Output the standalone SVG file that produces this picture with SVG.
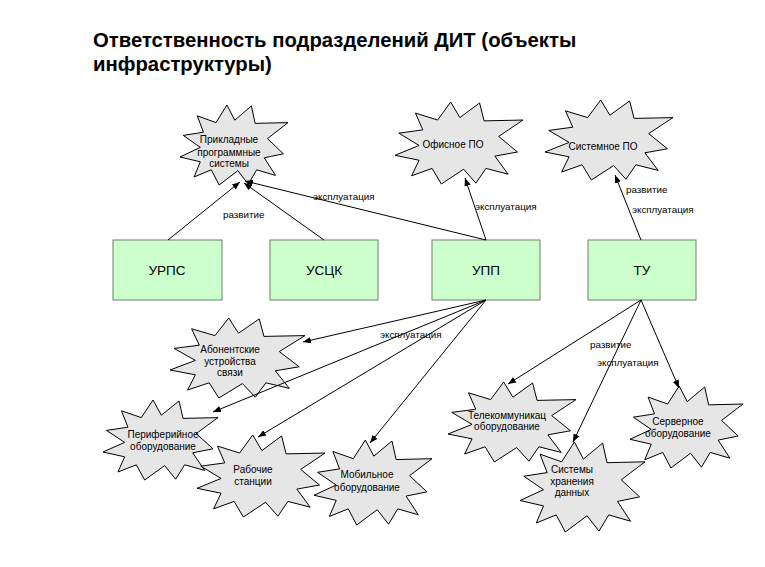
<svg xmlns="http://www.w3.org/2000/svg" xmlns:xlink="http://www.w3.org/1999/xlink" width="765" height="567" viewBox="0 0 765 567">
<style>
.title{font-family:"Liberation Sans",Arial,sans-serif;font-size:20.3px;font-weight:bold;fill:#000}
.box{fill:#ccffcc;stroke:#6f806f;stroke-width:1}
.bl{font-family:"Liberation Sans",Arial,sans-serif;font-size:13.5px;fill:#000;text-anchor:middle}
.st{font-family:"Liberation Sans",Arial,sans-serif;font-size:10px;fill:#000;text-anchor:middle}
.lb{font-family:"Liberation Sans",Arial,sans-serif;font-size:9.8px;fill:#000}
.con line{stroke:#000;stroke-width:1;marker-end:url(#ah)}
</style>
<defs>
<marker id="ah" viewBox="0 0 10 10" refX="10" refY="5" markerWidth="8" markerHeight="8" markerUnits="userSpaceOnUse" orient="auto">
<path d="M0,1 L10,5 L0,9 z" fill="#000"/>
</marker>
<path id="burst" d="M43.5,0 L50.7,19 L66.1,1.2 L69.6,23 L100,22 L81,42 L95.7,61 L78,66 L88.4,88 L71,81 L63.2,99 L53.6,82 L36.2,100 L29,81 L13,90 L18.8,71 L0,65 L18.8,53 L3,38 L21.7,34 L16,13.5 L33.3,22 Z" fill="#e6e6e6" stroke="#000" stroke-width="1" vector-effect="non-scaling-stroke"/>
</defs>
<rect width="765" height="567" fill="#fff"/>
<text class="title" x="93" y="47">Ответственность подразделений ДИТ (объекты</text>
<text class="title" x="93" y="71">инфраструктуры)</text>

<g id="n-urps"><rect class="box" x="113" y="240" width="109" height="60"/><text class="bl" x="167" y="275">УРПС</text></g>
<g id="n-usck"><rect class="box" x="270" y="240" width="108" height="60"/><text class="bl" x="324" y="275">УСЦК</text></g>
<g id="n-upp"><rect class="box" x="432" y="240" width="108" height="60"/><text class="bl" x="486" y="275">УПП</text></g>
<g id="n-tu"><rect class="box" x="588" y="240" width="108" height="60"/><text class="bl" x="642" y="275">ТУ</text></g>

<g id="b-prikl"><use xlink:href="#burst" transform="translate(180,105) scale(1.08,0.8)"/><text class="st" x="229" y="143">Прикладные</text><text class="st" x="229" y="156">программные</text><text class="st" x="229" y="167">системы</text></g>
<g id="b-ofis"><use xlink:href="#burst" transform="translate(395,102) scale(1.28,0.82)"/><text class="st" x="453" y="148">Офисное ПО</text></g>
<g id="b-sist"><use xlink:href="#burst" transform="translate(545,100) scale(1.28,0.8)"/><text class="st" x="603" y="150">Системное ПО</text></g>
<g id="b-abon"><use xlink:href="#burst" transform="translate(170,318) scale(1.35,0.8)"/><text class="st" x="230" y="353">Абонентские</text><text class="st" x="230" y="365">устройства</text><text class="st" x="230" y="376">связи</text></g>
<g id="b-perif"><use xlink:href="#burst" transform="translate(103,400) scale(1.15,0.8)"/><text class="st" x="163" y="438">Периферийное</text><text class="st" x="163" y="450">оборудование</text></g>
<g id="b-rab"><use xlink:href="#burst" transform="translate(197,435) scale(1.28,0.82)"/><text class="st" x="253" y="473">Рабочие</text><text class="st" x="253" y="485">станции</text></g>
<g id="b-mob"><use xlink:href="#burst" transform="translate(314,440) scale(1.18,0.85)"/><text class="st" x="367" y="478">Мобильное</text><text class="st" x="367" y="491">оборудование</text></g>
<g id="b-tel"><use xlink:href="#burst" transform="translate(448,382) scale(1.28,0.8)"/><text class="st" x="507" y="419">Телекоммуникац</text><text class="st" x="507" y="430">оборудование</text></g>
<g id="b-shd"><use xlink:href="#burst" transform="translate(520,442) scale(1.25,0.9)"/><text class="st" x="572" y="473">Системы</text><text class="st" x="572" y="485">хранения</text><text class="st" x="572" y="496">данных</text></g>
<g id="b-serv"><use xlink:href="#burst" transform="translate(630,386) scale(1.13,0.82)"/><text class="st" x="678" y="425">Серверное</text><text class="st" x="678" y="437">оборудование</text></g>

<g id="connectors" class="con">
<line x1="168" y1="240" x2="240" y2="182"/>
<line x1="324" y1="240" x2="244" y2="183"/>
<line x1="486" y1="240" x2="245" y2="181"/>
<line x1="486" y1="240" x2="465" y2="178"/>
<line x1="641" y1="240" x2="615" y2="175"/>
<line x1="486" y1="300" x2="303" y2="342"/>
<line x1="486" y1="300" x2="213" y2="412"/>
<line x1="486" y1="300" x2="258" y2="437"/>
<line x1="486" y1="300" x2="370" y2="443"/>
<line x1="641" y1="300" x2="508" y2="384"/>
<line x1="641" y1="300" x2="573" y2="442"/>
<line x1="641" y1="300" x2="679" y2="388"/>
</g>
<g id="labels">
<text class="lb" x="223" y="218">развитие</text>
<text class="lb" x="313" y="200">эксплуатация</text>
<text class="lb" x="475" y="210">эксплуатация</text>
<text class="lb" x="626" y="193">развитие</text>
<text class="lb" x="632" y="213">эксплуатация</text>
<text class="lb" x="380" y="338">эксплуатация</text>
<text class="lb" x="590" y="348">развитие</text>
<text class="lb" x="597" y="366">эксплуатация</text>
</g>
</svg>
